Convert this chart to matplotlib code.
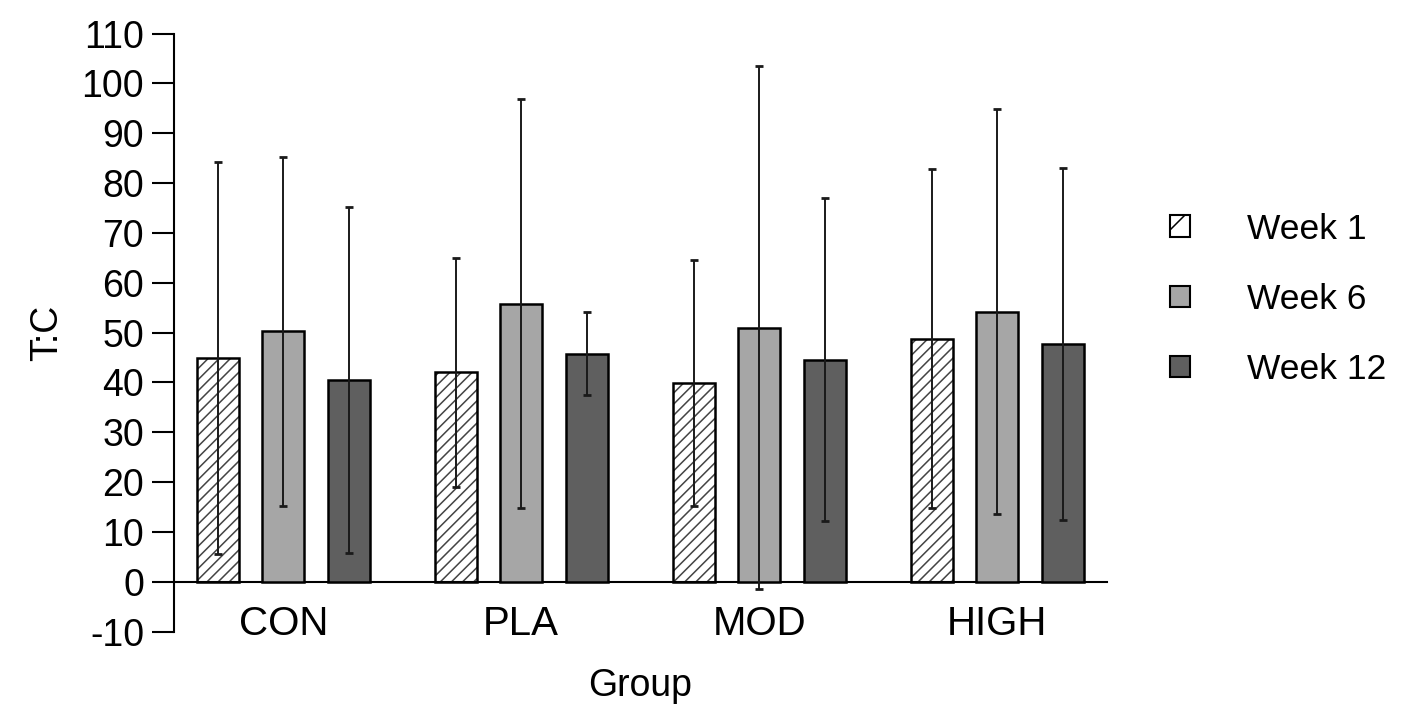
import matplotlib
matplotlib.use('Agg')
import matplotlib.pyplot as plt
import matplotlib.patches as mpatches
import numpy as np

plt.rcParams['font.family'] = ['Liberation Sans', 'DejaVu Sans']
plt.rcParams['axes.unicode_minus'] = False
plt.rcParams['hatch.linewidth'] = 1.1

groups = ['CON', 'PLA', 'MOD', 'HIGH']
weeks = ['Week 1', 'Week 6', 'Week 12']

week1_mean = [44.9, 42.0, 39.9, 48.8]
week1_sd = [39.3, 23.0, 24.6, 34.0]
week6_mean = [50.3, 55.8, 51.0, 54.2]
week6_sd = [35.0, 41.0, 52.5, 40.6]
week12_mean = [40.5, 45.8, 44.6, 47.7]
week12_sd = [34.7, 8.3, 32.4, 35.3]

y_ticks = list(range(-10, 111, 10))

means = [week1_mean, week6_mean, week12_mean]
sds = [week1_sd, week6_sd, week12_sd]
fills = ['white', '#a6a6a6', '#5f5f5f']
hatches = ['///', None, None]

fig = plt.figure(figsize=(14.17, 7.16), dpi=100)
ax = fig.add_axes([0.1228, 0.1177, 0.6584, 0.8355])

x = np.arange(len(groups))
width = 0.176
offset = 0.275

for i in range(3):
    pos = x + (i - 1) * offset
    if hatches[i]:
        # hatch drawn in grey, outline drawn on top in black
        ax.bar(pos, means[i], width, color=fills[i], edgecolor='#444444',
               hatch=hatches[i], linewidth=0, zorder=2)
        ax.bar(pos, means[i], width, color='none', edgecolor='black',
               linewidth=1.8, zorder=3)
    else:
        ax.bar(pos, means[i], width, color=fills[i], edgecolor='black',
               linewidth=1.8, zorder=3)
    ax.errorbar(pos, means[i], yerr=sds[i], fmt='none', ecolor='#1a1a1a',
                elinewidth=1.4, capsize=3, capthick=2, zorder=4, clip_on=False)

ax.set_xlim(-0.459, 3.461)
ax.set_ylim(-10, 110)

ax.spines['top'].set_visible(False)
ax.spines['right'].set_visible(False)
ax.spines['bottom'].set_position(('data', 0))
ax.spines['left'].set_linewidth(1.5)
ax.spines['bottom'].set_linewidth(1.5)

ax.set_yticks(y_ticks)
ax.set_xticks(x)
ax.set_xticklabels(groups)
ax.tick_params(axis='y', direction='out', length=15.5, width=1.5,
               labelsize=27, pad=6)
ax.tick_params(axis='x', length=0, pad=17, labelsize=29)

ax.set_ylabel('T:C', fontsize=27, labelpad=12)
ax.set_xlabel('Group', fontsize=27)
ax.xaxis.set_label_coords(0.5, -0.06)

handles = [
    mpatches.Patch(facecolor='white', edgecolor='black', hatch='/', linewidth=1.5),
    mpatches.Patch(facecolor=fills[1], edgecolor='black', linewidth=1.5),
    mpatches.Patch(facecolor=fills[2], edgecolor='black', linewidth=1.5),
]
fig.legend(handles, weeks, loc='upper left', bbox_to_anchor=(0.826, 0.703),
           frameon=False, fontsize=25.5, handlelength=0.55, handleheight=0.55,
           handletextpad=1.6, labelspacing=1.05, borderpad=0, borderaxespad=0)

fig.savefig('out.png', dpi=100)
